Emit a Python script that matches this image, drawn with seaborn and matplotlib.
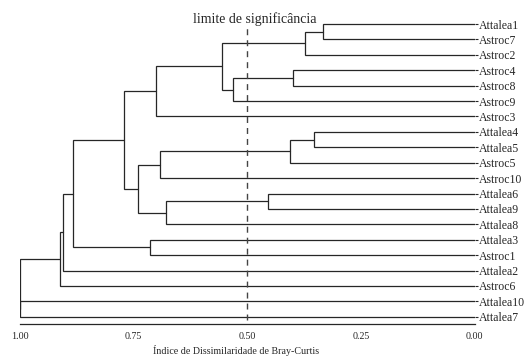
import matplotlib
matplotlib.use("Agg")
import matplotlib.pyplot as plt
import seaborn as sns
from matplotlib.ticker import MultipleLocator, FormatStrFormatter

# folhas do dendrograma, de cima para baixo
leaves = ["Attalea1", "Astroc7", "Astroc2", "Astroc4", "Astroc8", "Astroc9",
          "Astroc3", "Attalea4", "Attalea5", "Astroc5", "Astroc10", "Attalea6",
          "Attalea9", "Attalea8", "Attalea3", "Astroc1", "Attalea2", "Astroc6",
          "Attalea10", "Attalea7"]

# fusoes: ids < 20 sao folhas, ids >= 20 sao grupos criados na ordem da lista
merge_a = [0, 20, 3, 22, 21, 24, 7, 26, 27, 11, 29, 28, 25, 14, 32, 34, 35, 18, 36]
merge_b = [1, 2, 4, 5, 23, 6, 8, 9, 10, 12, 13, 30, 31, 15, 33, 16, 17, 19, 37]
merge_h = [0.334, 0.373, 0.400, 0.531, 0.556, 0.700, 0.354, 0.407, 0.692, 0.455,
           0.680, 0.740, 0.771, 0.714, 0.884, 0.905, 0.911, 1.000, 1.000]

limite = 0.5

sns.set_style("white")
plt.rcParams["font.family"] = ["Liberation Serif", "DejaVu Serif"]

fig = plt.figure(figsize=(5.24, 3.58), dpi=100)
ax = fig.add_axes([20 / 524, 34 / 358, 454.8 / 524, 314 / 358])

n = len(leaves)
pos = list(range(n))
height = [0.0] * n
line_col = "#262626"
for a, b, h in zip(merge_a, merge_b, merge_h):
    ax.plot([height[a], h, h, height[b]], [pos[a], pos[a], pos[b], pos[b]],
            color=line_col, lw=0.9, solid_joinstyle="miter")
    pos.append((pos[a] + pos[b]) / 2)
    height.append(h)

# linha de corte
ax.axvline(limite, ymin=0.013, ymax=0.946, color="#444444", lw=1.0,
           ls=(0, (4.3, 3.6)))
ax.annotate("limite de significância", xy=(limite, -0.07), xytext=(5, 0),
            textcoords="offset points", ha="center", va="baseline", fontsize=10)

ax.set_xlim(1.0, 0.0)
ax.set_ylim(n - 0.53, -0.91)

ax.xaxis.set_major_locator(MultipleLocator(0.25))
ax.xaxis.set_minor_locator(MultipleLocator(0.05))
ax.xaxis.set_major_formatter(FormatStrFormatter("%.2f"))
ax.tick_params(axis="x", which="major", length=4, width=0.8, labelsize=7.2,
               pad=2, color=line_col)
ax.tick_params(axis="x", which="minor", length=2.2, width=0.8, color=line_col)

ax.yaxis.tick_right()
ax.set_yticks(range(n))
ax.set_yticklabels(leaves)
ax.tick_params(axis="y", length=2.2, width=0.8, pad=1, labelsize=8.5,
               color=line_col)

ax.set_xlabel("Índice de Dissimilaridade de Bray-Curtis", fontsize=7.2)
ax.xaxis.set_label_coords(0.475, -0.066)

sns.despine(ax=ax, left=True, right=True, top=True)
ax.spines["bottom"].set_color(line_col)
ax.spines["bottom"].set_linewidth(0.9)

fig.savefig("out.png", dpi=100)
